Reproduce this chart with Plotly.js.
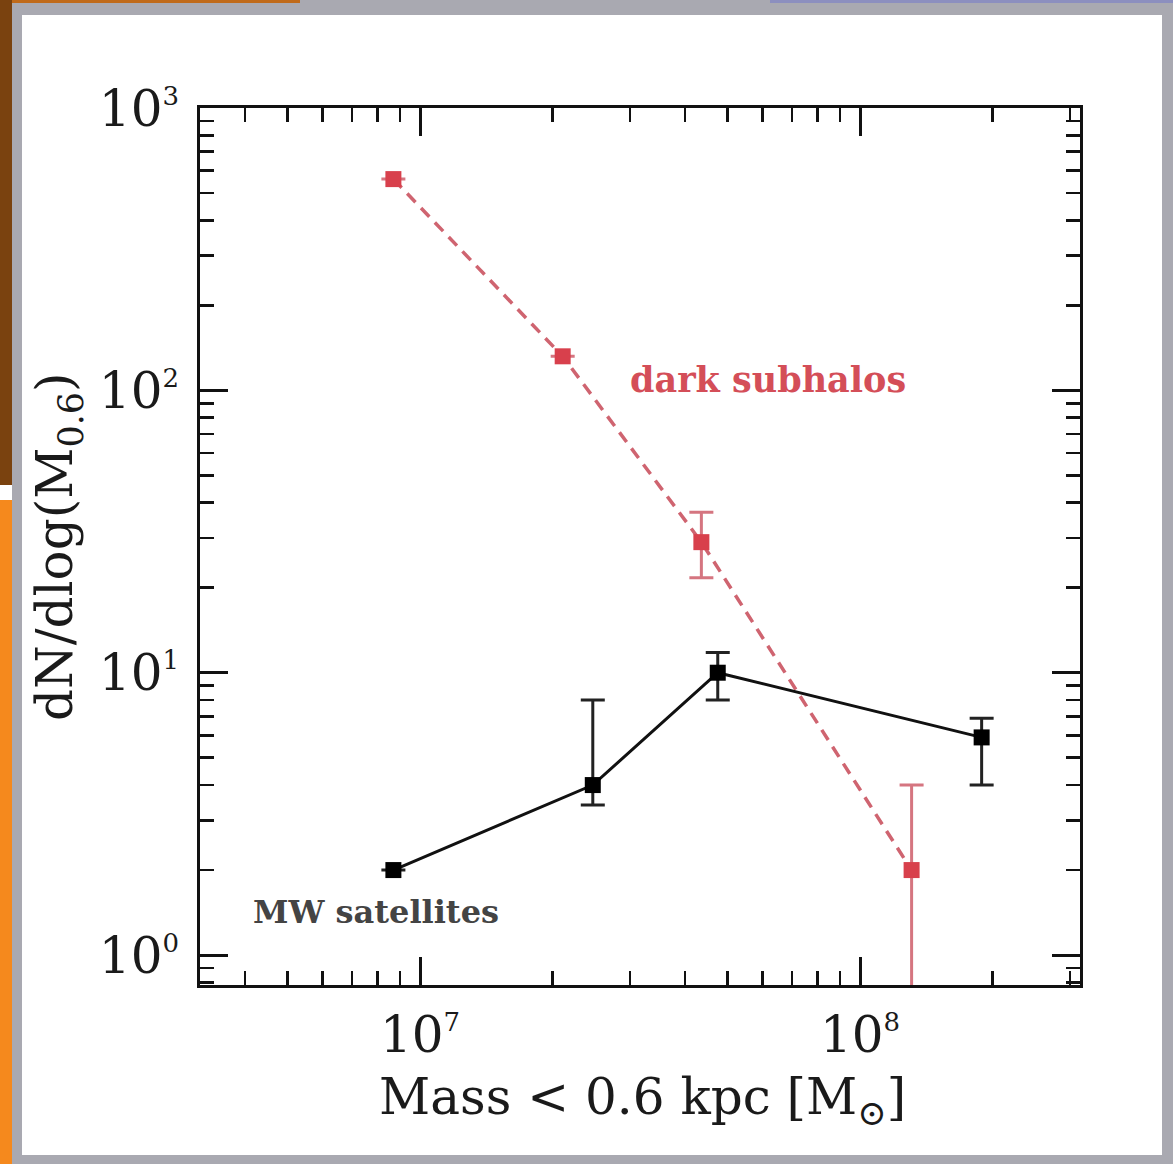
<!DOCTYPE html>
<html><head><meta charset="utf-8">
<script src="https://cdn.plot.ly/plotly-3.0.1.min.js"></script>
<style>html,body{margin:0;padding:0;background:#fff}#chart{width:1173px;height:1164px}</style>
</head><body><div id="chart"></div>
<script>
// MW satellites (black)
const massSat = [8.7e6, 2.47e7, 4.75e7, 1.89e8];
const dndSat = [2, 4, 10, 5.9];
const errSatPlus = [0, 4, 1.8, 1.0];
const errSatMinus = [0, 0.6, 2.0, 1.9];
// dark subhalos (red)
const massDark = [8.7e6, 2.11e7, 4.36e7, 1.31e8];
const dndDark = [560, 132, 29, 2];
const errDarkPlus = [0, 0, 8, 2];
const errDarkMinus = [0, 0, 7.3, 1.98];
// axis ticks
const xTickVals = [1e7, 1e8];
const xTickExp = [7, 8];
const yTickVals = [1, 10, 100, 1000];
const yTickExp = [0, 1, 2, 3];
// text
const xTitle = 'Mass &lt; 0.6 kpc [M<sub>⊙</sub>]';
const yTitle = 'dN/dlog(M<sub>0.6</sub>)';
const labelDark = 'dark subhalos';
const labelSat = 'MW satellites';

const W = 1173, H = 1164, L = 200, R = 93, T = 108, B = 179;
const pw = W - L - R, ph = H - T - B;
const px = v => (v - L) / pw;
const py = v => (H - B - v) / ph;

const red = '#d8404c';
const redLine = '#cf6470';
const serif = 'DejaVu Serif, serif';

const powLabel = e => '10<sup><span style="font-size:26px">' + e + '</span></sup>';
const minorVals = (lo, hi) => {
  const out = [];
  for (let d = lo; d <= hi; d++) for (let m = 2; m <= 9; m++) out.push(m * Math.pow(10, d));
  return out;
};

const traces = [
  {
    x: massDark, y: dndDark, type: 'scatter', mode: 'lines+markers',
    line: {color: redLine, width: 3.5, dash: '12px,8px'},
    marker: {symbol: 'square', size: 16, color: red},
    error_y: {type: 'data', symmetric: false, array: errDarkPlus, arrayminus: errDarkMinus,
      color: '#d57580', thickness: 3, width: 12},
    showlegend: false, hoverinfo: 'skip'
  },
  {
    x: massSat, y: dndSat, type: 'scatter', mode: 'lines+markers',
    line: {color: '#111', width: 3},
    marker: {symbol: 'square', size: 16, color: '#000'},
    error_y: {type: 'data', symmetric: false, array: errSatPlus, arrayminus: errSatMinus,
      color: '#222', thickness: 3, width: 12},
    showlegend: false, hoverinfo: 'skip'
  }
];

const axisCommon = {
  type: 'log', showgrid: false, zeroline: false,
  showline: true, linecolor: '#111', linewidth: 3, mirror: 'allticks',
  ticks: 'inside', ticklen: 28, tickwidth: 3, tickcolor: '#111',
  tickmode: 'array',
  tickfont: {family: serif, size: 50, color: '#1a1a1a'}
};

const layout = {
  width: W, height: H,
  margin: {l: L, r: R, t: T, b: B},
  paper_bgcolor: '#a9a9b1',
  plot_bgcolor: 'rgba(0,0,0,0)',
  xaxis: Object.assign({}, axisCommon, {
    range: [6.5, 8.5], ticklabelstandoff: 4,
    tickvals: xTickVals, ticktext: xTickExp.map(powLabel),
    minor: {tickmode: 'array', tickvals: minorVals(6, 8), ticks: 'inside', ticklen: 14,
      tickwidth: 2.5, tickcolor: '#111', showgrid: false}
  }),
  yaxis: Object.assign({}, axisCommon, {
    range: [-0.106, 3.0], ticklabelstandoff: 8,
    tickvals: yTickVals, ticktext: yTickExp.map(powLabel),
    minor: {tickmode: 'array', tickvals: minorVals(-1, 2), ticks: 'inside', ticklen: 14,
      tickwidth: 2.5, tickcolor: '#111', showgrid: false}
  }),
  shapes: [
    {type: 'rect', xref: 'paper', yref: 'paper', layer: 'below',
      x0: px(22), x1: px(1162), y0: py(15), y1: py(1155), fillcolor: '#ffffff', line: {width: 0}},
    {type: 'rect', xref: 'paper', yref: 'paper', layer: 'below',
      x0: px(0), x1: px(12), y0: py(0), y1: py(485), fillcolor: '#7a420f', line: {width: 0}},
    {type: 'rect', xref: 'paper', yref: 'paper', layer: 'below',
      x0: px(0), x1: px(12), y0: py(485), y1: py(500), fillcolor: '#ffffff', line: {width: 0}},
    {type: 'rect', xref: 'paper', yref: 'paper', layer: 'below',
      x0: px(0), x1: px(12), y0: py(500), y1: py(1164), fillcolor: '#f5891d', line: {width: 0}},
    {type: 'rect', xref: 'paper', yref: 'paper', layer: 'below',
      x0: px(12), x1: px(300), y0: py(0), y1: py(3), fillcolor: '#c06a1a', line: {width: 0}},
    {type: 'rect', xref: 'paper', yref: 'paper', layer: 'below',
      x0: px(770), x1: px(1173), y0: py(0), y1: py(3), fillcolor: '#8c8fbf', line: {width: 0}}
  ],
  annotations: [
    {text: xTitle, xref: 'paper', yref: 'paper', x: px(642), y: py(1100), showarrow: false,
      xanchor: 'center', yanchor: 'middle', font: {family: serif, size: 50, color: '#1a1a1a'}},
    {text: yTitle, xref: 'paper', yref: 'paper', x: px(58), y: py(547), showarrow: false,
      textangle: -90, xanchor: 'center', yanchor: 'middle', font: {family: serif, size: 50, color: '#1a1a1a'}},
    {text: '<b>' + labelDark + '</b>', xref: 'paper', yref: 'paper', x: px(768), y: py(380), showarrow: false,
      xanchor: 'center', yanchor: 'middle', font: {family: serif, size: 35, color: '#d44e58'}},
    {text: '<b>' + labelSat + '</b>', xref: 'paper', yref: 'paper', x: px(376), y: py(912), showarrow: false,
      xanchor: 'center', yanchor: 'middle', font: {family: serif, size: 32, color: '#444'}}
  ]
};

Plotly.newPlot('chart', traces, layout, {displayModeBar: false, staticPlot: true});
</script>
</body></html>
